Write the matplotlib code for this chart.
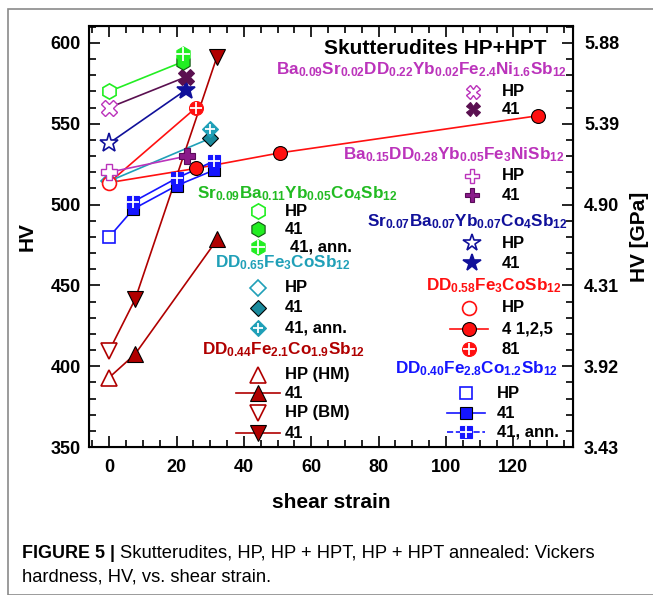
import numpy as np
import matplotlib
matplotlib.use("Agg")
import matplotlib.pyplot as plt
from matplotlib.patches import Rectangle
from matplotlib.ticker import MultipleLocator

plt.rcParams['font.family'] = ['Liberation Sans', 'DejaVu Sans']
plt.rcParams['font.weight'] = 'bold'
plt.rcParams['mathtext.fontset'] = 'custom'
plt.rcParams['mathtext.bf'] = 'Liberation Sans:bold'
plt.rcParams['mathtext.rm'] = 'Liberation Sans'
plt.rcParams['mathtext.default'] = 'bf'

# ---- data (HV vs shear strain) ----
# Sr0.09Ba0.11Yb0.05Co4Sb12
grn_hp_x, grn_hp_y = [0], [570]
grn_41_x, grn_41_y = [22], [588.5]
grn_ann_x, grn_ann_y = [22], [593]
# Ba0.09Sr0.02DD0.22Yb0.02Fe2.4Ni1.6Sb12
bsx_hp_x, bsx_hp_y = [0], [560]
bsx_41_x, bsx_41_y = [22.8], [579]
# Sr0.07Ba0.07Yb0.07Co4Sb12
star_hp_x, star_hp_y = [0], [538]
star_41_x, star_41_y = [22.8], [571]
# DD0.58Fe3CoSb12
red_hp_x, red_hp_y = [0], [513.6]
red_41_x, red_41_y = [25.8, 50.7, 127.4], [522.4, 532, 555]
red_81_x, red_81_y = [25.8], [560]
# DD0.65Fe3CoSb12
teal_hp_x, teal_hp_y = [0], [514.5]
teal_41_x, teal_41_y = [30], [541]
teal_ann_x, teal_ann_y = [30], [546.8]
# Ba0.15DD0.28Yb0.05Fe3NiSb12
plus_hp_x, plus_hp_y = [0], [520]
plus_41_x, plus_41_y = [23], [530]
# DD0.40Fe2.8Co1.2Sb12
blue_hp_x, blue_hp_y = [0], [480]
blue_41_x, blue_41_y = [7.2, 20, 31.2], [497.3, 511.7, 521.4]
blue_ann_x, blue_ann_y = [7.2, 20, 31.2], [501.8, 516.3, 527]
# DD0.44Fe2.1Co1.9Sb12
hm_hp_x, hm_hp_y = [0], [393]
hm_41_x, hm_41_y = [7.7, 32.1], [407.5, 478.5]
bm_hp_x, bm_hp_y = [0], [409.6]
bm_41_x, bm_41_y = [7.7, 32], [441.4, 591.5]

hv_ticks = [350, 400, 450, 500, 550, 600]
gpa_labels = ['3.43', '3.92', '4.31', '4.90', '5.39', '5.88']

GRN = '#22ee22'
MAG = '#bb33bb'
DPUR = '#5a1050'
NAVY = '#10109a'
RED = '#ff1010'
TEAL = '#20a0b8'
TEALD = '#1a8a9c'
BLUE = '#1515ff'
DRED = '#b00000'

W, H = 653, 595
fig = plt.figure(figsize=(W / 100, H / 100), dpi=100)
AX_L, AX_R, AX_T, AX_B = 89, 573, 26, 447
ax = fig.add_axes([AX_L / W, 1 - AX_B / H, (AX_R - AX_L) / W, (AX_B - AX_T) / H])
ax.set_xlim(-6, 137.7)
ax.set_ylim(350, 610.5)

fig.patches.append(Rectangle((8 / W, 0), 1, 1 - 9 / H, transform=fig.transFigure,
                             fill=False, ec='#8a8a8a', lw=1.2))


def line(x, y, c, lw=1.2):
    ax.plot(x, y, '-', color=c, lw=lw, zorder=2)


def mk(x, y, m, ms, fc, ec, mew=1.2, z=3, **kw):
    ax.plot(x, y, ls='none', marker=m, ms=ms, mfc=fc, mec=ec, mew=mew, zorder=z, **kw)


def ann(x, y, m, ms, c, z=3, **kw):
    mk(x, y, m, ms, c, c, mew=0.8, z=z, **kw)
    ax.plot(x, y, ls='none', marker='+', ms=ms * 0.9, mec='white', mew=1.3, zorder=z + 0.1, **kw)


# connecting lines
line(grn_hp_x + grn_41_x, grn_hp_y + grn_41_y, GRN)
line(bsx_hp_x + bsx_41_x, bsx_hp_y + bsx_41_y, DPUR)
line(star_hp_x + star_41_x, star_hp_y + star_41_y, NAVY)
line(red_hp_x + red_41_x, red_hp_y + red_41_y, RED)
line(red_hp_x + red_81_x, red_hp_y + red_81_y, RED)
line(teal_hp_x + teal_41_x, teal_hp_y + teal_41_y, TEAL)
line(plus_hp_x + plus_41_x, plus_hp_y + plus_41_y, MAG)
line(blue_hp_x + blue_41_x, blue_hp_y + blue_41_y, BLUE)
line(blue_ann_x, blue_ann_y, BLUE)
line(hm_hp_x + hm_41_x, hm_hp_y + hm_41_y, DRED)
line(bm_hp_x + bm_41_x, bm_hp_y + bm_41_y, DRED)

# markers
mk(hm_hp_x, hm_hp_y, '^', 11, 'white', DRED)
mk(hm_41_x, hm_41_y, '^', 11, DRED, 'black', mew=0.8)
mk(bm_hp_x, bm_hp_y, 'v', 11, 'white', DRED)
mk(bm_41_x, bm_41_y, 'v', 11, DRED, 'black', mew=0.8)
mk(blue_hp_x, blue_hp_y, 's', 9, 'white', BLUE)
mk(blue_41_x, blue_41_y, 's', 9, BLUE, 'black', mew=0.8)
ann(blue_ann_x, blue_ann_y, 's', 9, BLUE)
mk(teal_hp_x, teal_hp_y, 'D', 8, 'white', TEAL)
mk(teal_41_x, teal_41_y, 'D', 8, TEALD, 'black', mew=0.8)
ann(teal_ann_x, teal_ann_y, 'D', 8, TEAL)
mk(red_hp_x, red_hp_y, 'o', 10, 'white', RED)
mk(red_41_x, red_41_y, 'o', 10, RED, 'black', mew=0.8)
ann(red_81_x, red_81_y, 'o', 10, RED)
mk(plus_hp_x, plus_hp_y, 'P', 11, 'white', MAG, mew=1.0)
mk(plus_41_x, plus_41_y, 'P', 11, '#8a1a8a', '#5a0a5a', mew=0.8)
mk(star_hp_x, star_hp_y, '*', 14, 'white', NAVY)
mk(star_41_x, star_41_y, '*', 14, NAVY, NAVY)
mk(bsx_hp_x, bsx_hp_y, 'X', 11, 'white', MAG, mew=1.0)
mk(bsx_41_x, bsx_41_y, 'X', 11, DPUR, DPUR, mew=0.8)
mk(grn_hp_x, grn_hp_y, 'h', 11, 'white', GRN)
mk(grn_41_x, grn_41_y, 'h', 11, GRN, '#115511', mew=0.8)
ann(grn_ann_x, grn_ann_y, 'h', 11, GRN)

# axes styling
ax.xaxis.set_major_locator(MultipleLocator(20))
ax.xaxis.set_minor_locator(MultipleLocator(5))
ax.set_yticks(hv_ticks)
ax.yaxis.set_minor_locator(MultipleLocator(10))
ax.tick_params(which='both', direction='in', top=True, width=1.2, labelsize=13, pad=6)
ax.tick_params(axis='x', which='both', pad=9)
ax.tick_params(which='major', length=8)
ax.tick_params(which='minor', length=5)
for s in ax.spines.values():
    s.set_linewidth(1.5)
ax.set_xlabel('shear strain', fontsize=15, fontweight='bold', labelpad=12)
ax.set_ylabel('HV', fontsize=15, fontweight='bold', labelpad=10)

ax2 = ax.twinx()
ax2.set_ylim(ax.get_ylim())
ax2.set_yticks(hv_ticks)
ax2.set_yticklabels(gpa_labels)
ax2.yaxis.set_minor_locator(MultipleLocator(10))
ax2.tick_params(which='both', direction='in', width=1.2, labelsize=13, pad=8)
ax2.tick_params(which='major', length=8)
ax2.tick_params(which='minor', length=5)
ax2.set_ylabel('HV [GPa]', fontsize=15, fontweight='bold', labelpad=8)


# legend-like annotations in pixel positions
def fx(px):
    return (px - AX_L) / (AX_R - AX_L)


def fy(py):
    return (AX_B - py) / (AX_B - AX_T)


def txt(px, py, s, c='black', ha='left', size=12):
    ax.text(fx(px), fy(py), s, color=c, ha=ha, va='center', fontsize=size,
            fontweight='bold', transform=ax.transAxes)


def key(px, py, m, ms, fc, ec, mew=1.2, seg=None, seg_color=None, cross=False):
    if seg is not None:
        ax.plot([fx(px - seg), fx(px + seg)], [fy(py)] * 2, '-', color=seg_color,
                lw=1.2, transform=ax.transAxes, clip_on=False, zorder=4)
    ax.plot([fx(px)], [fy(py)], ls='none', marker=m, ms=ms, mfc=fc, mec=ec, mew=mew,
            transform=ax.transAxes, clip_on=False, zorder=5)
    if cross:
        ax.plot([fx(px)], [fy(py)], ls='none', marker='+', ms=ms * 0.9, mec='white',
                mew=1.3, transform=ax.transAxes, clip_on=False, zorder=6)


FS = 12.3
txt(547, 48, 'Skutterudites HP+HPT', ha='right', size=15)

txt(567, 70, r'$Ba_{0.09}Sr_{0.02}DD_{0.22}Yb_{0.02}Fe_{2.4}Ni_{1.6}Sb_{12}$', MAG, ha='right', size=FS)
key(473, 92, 'X', 10, 'white', MAG, mew=1.0)
txt(502, 92, 'HP')
key(473, 109, 'X', 10, DPUR, DPUR, mew=0.8)
txt(502, 109, '41')

txt(565, 155, r'$Ba_{0.15}DD_{0.28}Yb_{0.05}Fe_{3}NiSb_{12}$', MAG, ha='right', size=FS)
key(472, 176, 'P', 10, 'white', MAG, mew=1.0)
txt(502, 176, 'HP')
key(472, 195, 'P', 10, '#8a1a8a', '#5a0a5a', mew=0.8)
txt(502, 195, '41')

txt(568, 222, r'$Sr_{0.07}Ba_{0.07}Yb_{0.07}Co_{4}Sb_{12}$', NAVY, ha='right', size=FS)
key(472, 243, '*', 13, 'white', NAVY)
txt(502, 243, 'HP')
key(472, 263, '*', 13, NAVY, NAVY)
txt(502, 263, '41')

txt(562, 286, r'$DD_{0.58}Fe_{3}CoSb_{12}$', RED, ha='right', size=FS)
key(469, 308, 'o', 10, 'white', RED)
txt(502, 308, 'HP')
key(469, 329, 'o', 10, RED, 'black', mew=0.8, seg=19, seg_color=RED)
txt(502, 329, '4 1,2,5')
key(469, 349, 'o', 10, RED, RED, mew=0.8, cross=True)
txt(502, 349, '81')

txt(558, 369, r'$DD_{0.40}Fe_{2.8}Co_{1.2}Sb_{12}$', BLUE, ha='right', size=FS)
key(466, 393, 's', 9, 'white', BLUE)
txt(497, 393, 'HP')
key(466, 413, 's', 9, BLUE, 'black', mew=0.8, seg=19, seg_color=BLUE)
txt(497, 413, '41')
ax.plot([fx(447), fx(485)], [fy(432)] * 2, '--', color=BLUE, lw=1.2,
        transform=ax.transAxes, clip_on=False, zorder=4)
key(466, 432, 's', 9, BLUE, BLUE, mew=0.8, cross=True)
txt(497, 432, '41, ann.')

txt(197, 194, r'$Sr_{0.09}Ba_{0.11}Yb_{0.05}Co_{4}Sb_{12}$', '#22bb22', size=FS)
key(258, 211, 'h', 11, 'white', GRN)
txt(285, 212, 'HP')
key(258, 229, 'h', 11, GRN, '#115511', mew=0.8)
txt(285, 229, '41')
key(258, 247, 'h', 11, GRN, GRN, mew=0.8, cross=True)
txt(290, 247, '41, ann.')

txt(215, 263, r'$DD_{0.65}Fe_{3}CoSb_{12}$', TEAL, size=FS)
key(258, 288, 'D', 8, 'white', TEAL)
txt(285, 288, 'HP')
key(258, 308, 'D', 8, TEALD, 'black', mew=0.8)
txt(285, 308, '41')
key(258, 328, 'D', 8, TEAL, TEAL, mew=0.8, cross=True)
txt(285, 328, '41, ann.')

txt(202, 350, r'$DD_{0.44}Fe_{2.1}Co_{1.9}Sb_{12}$', DRED, size=FS)
key(258, 375, '^', 11, 'white', DRED)
txt(285, 375, 'HP (HM)')
key(258, 393, '^', 11, DRED, 'black', mew=0.8, seg=22, seg_color=DRED)
txt(285, 393, '41')
key(258, 413, 'v', 11, 'white', DRED)
txt(285, 413, 'HP (BM)')
key(258, 433, 'v', 11, DRED, 'black', mew=0.8, seg=22, seg_color=DRED)
txt(285, 433, '41')

# caption
fig.text(22 / W, 1 - 553 / H, 'FIGURE 5 |', fontsize=12.9, fontweight='bold', va='center')
fig.text(120 / W, 1 - 553 / H, 'Skutterudites, HP, HP + HPT, HP + HPT annealed: Vickers',
         fontsize=13.2, fontweight='normal', va='center')
fig.text(22 / W, 1 - 577 / H, 'hardness, HV, vs. shear strain.',
         fontsize=13.2, fontweight='normal', va='center')

fig.savefig('out.png', dpi=100)
